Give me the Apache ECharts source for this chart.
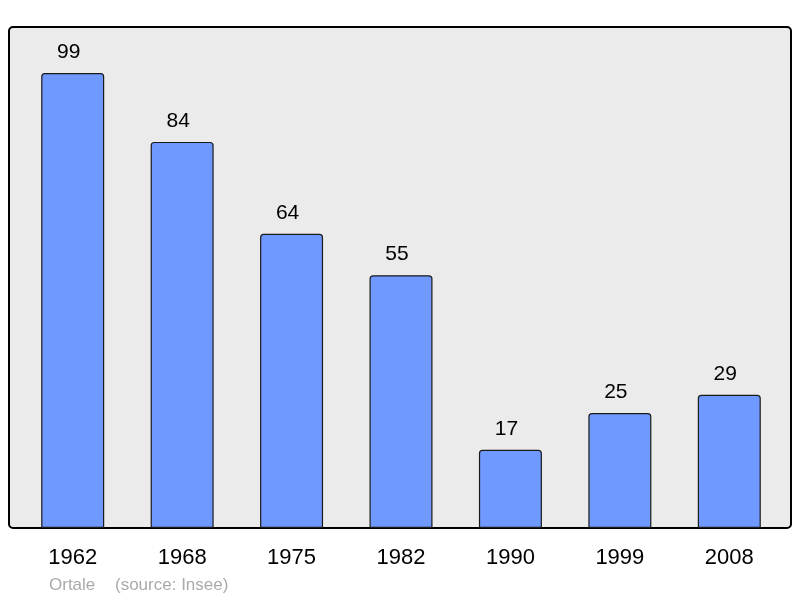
<!DOCTYPE html>
<html>
<head>
<meta charset="utf-8">
<script src="https://cdn.jsdelivr.net/npm/echarts@6/dist/echarts.min.js"></script>
<style>
  html, body { margin: 0; padding: 0; background: #fff; }
  #chart { width: 800px; height: 598px; }
</style>
</head>
<body>
<div id="chart"></div>
<script>
// données population
var years = ['1962', '1968', '1975', '1982', '1990', '1999', '2008'];
var population = [99, 84, 64, 55, 17, 25, 29];
var commune = 'Ortale';
var source = '(source: Insee)';

(function () {
  var myChart = echarts.init(document.getElementById('chart'));
  var font = 'Liberation Sans, Arial, sans-serif';

  var option = {
    animation: false,
    textStyle: { fontFamily: font },
    // cadre gris derrière les barres
    graphic: [
      {
        type: 'rect',
        z: -10,
        shape: { x: 9, y: 27, width: 782, height: 501, r: 4 },
        style: { fill: '#ebebeb', stroke: '#000', lineWidth: 2 }
      },
      {
        type: 'text',
        left: 49,
        top: 577,
        style: { text: commune, fill: '#aaaaaa', fontSize: 17, fontFamily: font }
      },
      {
        type: 'text',
        left: 115,
        top: 577,
        style: { text: source, fill: '#aaaaaa', fontSize: 17, fontFamily: font }
      }
    ],
    grid: {
      left: 18,
      right: 16,
      top: 27,
      bottom: 70
    },
    xAxis: {
      type: 'category',
      data: years,
      axisTick: { show: false },
      axisLine: { show: false },
      axisLabel: {
        color: '#000',
        fontSize: 22,
        margin: 19
      }
    },
    yAxis: {
      type: 'value',
      min: 0,
      max: 109,
      show: false,
      splitLine: { show: false }
    },
    series: [{
      type: 'bar',
      data: population,
      barWidth: 63,
      itemStyle: {
        color: '#7099ff',
        borderColor: '#1a1a1a',
        borderWidth: 1.2,
        borderRadius: [3, 3, 0, 0]
      },
      label: {
        show: true,
        position: 'top',
        distance: 10,
        offset: [-4, 0],
        color: '#000',
        fontSize: 21
      }
    }]
  };

  myChart.setOption(option);
  window.addEventListener('resize', function () {
    myChart.resize();
  });
})();
</script>
</body>
</html>
